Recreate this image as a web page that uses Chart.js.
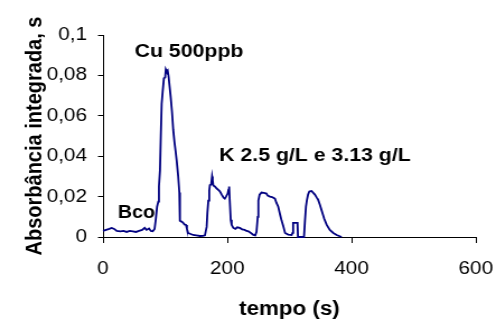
<!DOCTYPE html>
<html>
<head>
<meta charset="utf-8">
<script src="https://cdn.jsdelivr.net/npm/chart.js"></script>
<style>
  html, body { margin: 0; padding: 0; background: #fff; overflow: hidden; }
  /* the chart is laid out narrow and stretched sideways, like the old spreadsheet export */
  #wrap { width: 443px; height: 327px; transform: scaleX(1.1196); transform-origin: 0 0; }
</style>
</head>
<body>
<div id="wrap"><canvas id="chart" width="443" height="327"></canvas></div>
<script>
// tempo (s)
const times = [
  0, 5, 10, 14, 18, 22, 28, 33, 38, 43, 48, 53, 58, 63, 67, 70, 74, 77, 80, 83,
  85, 87, 89, 90, 91.7, 93, 94.4, 96, 98, 100, 101, 102.5, 104, 105.7, 107, 109,
  111, 113, 115, 117, 118.5, 121, 122.8, 123.5, 124, 127, 129, 131, 133.5, 135,
  137, 141, 145, 150, 156, 161, 164, 166.8, 168, 169.5, 171, 172, 174, 175.5,
  176.5, 177.5, 180, 183, 186, 188, 191, 194, 196, 198, 200.6, 202, 203, 204,
  205.5, 207, 209.7, 213, 216, 220, 224, 228, 231, 234, 238, 242, 245, 247, 249,
  250, 252, 255, 259, 263, 265, 268.7, 272, 276.7, 279, 282, 285, 287.5, 290,
  293, 298, 303.6, 305, 306, 310, 313, 313.7, 321, 323.4, 325, 326.6, 328, 330,
  332, 335.6, 338, 341, 344, 346, 349, 352, 356, 360, 365, 370.6, 376, 384
];
// absorbância integrada (s)
const absorbance = [
  0.003, 0.0035, 0.004, 0.0045, 0.004, 0.003, 0.0028, 0.003, 0.0025, 0.003,
  0.0028, 0.0025, 0.003, 0.0035, 0.0045, 0.0035, 0.0042, 0.003, 0.0028, 0.004,
  0.009, 0.015, 0.0175, 0.025, 0.033, 0.05, 0.066, 0.072, 0.0786, 0.079, 0.083,
  0.082, 0.0825, 0.079, 0.075, 0.069, 0.062, 0.053, 0.047, 0.042, 0.038, 0.03,
  0.022, 0.012, 0.008, 0.0075, 0.007, 0.0062, 0.006, 0.004, 0.002, 0.0015,
  0.001, 0.0008, 0.0005, 0.0006, 0.0008, 0.005, 0.012, 0.018, 0.023, 0.0257,
  0.026, 0.03, 0.028, 0.0255, 0.025, 0.024, 0.0232, 0.0226, 0.021, 0.0195,
  0.019, 0.02, 0.0215, 0.0235, 0.025, 0.018, 0.0085, 0.006, 0.0045, 0.004,
  0.0048, 0.0045, 0.0038, 0.0035, 0.003, 0.0028, 0.002, 0.001, 0.0008, 0.0025,
  0.01, 0.018, 0.021, 0.022, 0.0218, 0.0215, 0.0205, 0.02, 0.0198, 0.019, 0.017,
  0.015, 0.011, 0.008, 0.0055, 0.002, 0.0012, 0.001, 0.002, 0.007, 0.007, 0.007,
  0, 0, 0, 0.008, 0.015, 0.018, 0.021, 0.0225, 0.0228, 0.022, 0.021, 0.0195,
  0.0186, 0.016, 0.013, 0.009, 0.006, 0.0035, 0.002, 0.001, 0
];
const xTickValues = [0, 200, 400, 600];
const yTickLabels = ['0', '0,02', '0,04', '0,06', '0,08', '0,1'];
const noteTexts = ['Bco', 'Cu 500ppb', 'K 2.5 g/L e 3.13 g/L'];

const FONT = 'Liberation Sans, Arial, sans-serif';

// labels written inside the plot, anchored in axis units
const notePlacement = [
  { x: 24, y: 0.0096, align: 'left', size: 17.5 },
  { x: 138.4, y: 0.0893, align: 'center', size: 19 },
  { x: 187, y: 0.0378, align: 'left', size: 19 }
];

const notesPlugin = {
  id: 'notes',
  afterDatasetsDraw(chart) {
    const { ctx, scales: { x, y } } = chart;
    ctx.save();
    ctx.fillStyle = '#000';
    ctx.textBaseline = 'alphabetic';
    noteTexts.forEach((t, i) => {
      const p = notePlacement[i];
      ctx.font = `bold ${p.size}px ${FONT}`;
      ctx.textAlign = p.align;
      ctx.fillText(t, x.getPixelForValue(p.x), y.getPixelForValue(p.y));
    });
    ctx.restore();
  }
};

const noPadding = s => {
  s.paddingTop = 0; s.paddingBottom = 0; s.paddingLeft = 0; s.paddingRight = 0;
};

new Chart(document.getElementById('chart'), {
  type: 'scatter',
  data: {
    datasets: [{
      data: times.map((t, i) => ({ x: t, y: absorbance[i] })),
      showLine: true,
      borderColor: '#000080',
      borderWidth: 1.8,
      pointRadius: 0,
      tension: 0,
      clip: 4
    }]
  },
  plugins: [notesPlugin],
  options: {
    responsive: false,
    animation: false,
    layout: { padding: { top: 35, right: 18, bottom: 0, left: 0 } },
    plugins: { legend: { display: false }, tooltip: { enabled: false } },
    scales: {
      x: {
        type: 'linear',
        min: 0,
        max: 600,
        afterBuildTicks: s => { s.ticks = xTickValues.map(v => ({ value: v })); },
        afterFit: s => { s.height = 90; noPadding(s); },
        border: { color: '#000', width: 1 },
        grid: { drawOnChartArea: false, color: '#000', tickLength: 6 },
        ticks: { color: '#000', padding: 14.7, maxRotation: 0, font: { family: FONT, size: 18.5 } },
        title: {
          display: true,
          text: 'tempo (s)',
          color: '#000',
          padding: { top: 0, bottom: 6 },
          font: { family: FONT, size: 20, weight: 'bold' }
        }
      },
      y: {
        min: 0,
        max: 0.1,
        afterBuildTicks: s => { s.ticks = yTickLabels.map((_, i) => ({ value: i * 0.02 })); },
        afterFit: s => { s.width = 92; noPadding(s); },
        border: { color: '#000', width: 1 },
        grid: { drawOnChartArea: false, color: '#000', tickLength: 4.5 },
        ticks: {
          color: '#000',
          padding: 9.8,
          font: { family: FONT, size: 18.5 },
          callback: (v, i) => yTickLabels[i]
        },
        title: {
          display: true,
          text: 'Absorbância integrada, s',
          color: '#000',
          padding: { top: 19.5, bottom: 0 },
          font: { family: FONT, size: 20, weight: 'bold' }
        }
      }
    }
  }
});
</script>
</body>
</html>
